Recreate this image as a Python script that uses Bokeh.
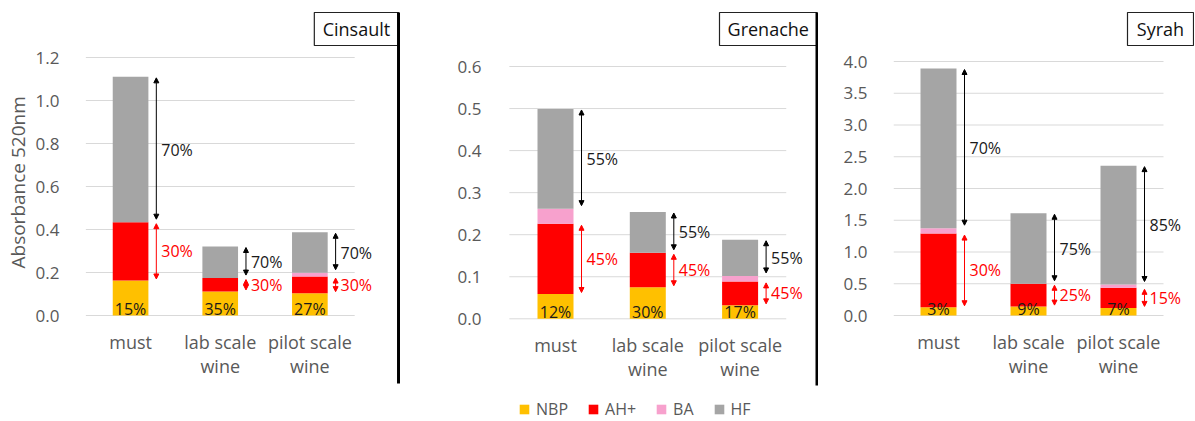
from bokeh.plotting import figure
from bokeh.models import (ColumnDataSource, Range1d, FixedTicker, NumeralTickFormatter,
                          Arrow, NormalHead, Legend, LegendItem, Title)
from bokeh.layouts import row
from bokeh.embed import file_html
from bokeh.resources import INLINE
from bokeh.core.properties import value

# ---------------- data ----------------
categories = ["must", "lab scale\nwine", "pilot scale\nwine"]
series = ["NBP", "AH+", "BA", "HF"]
colors = ["#FFC000", "#FF0000", "#F7A1CD", "#A5A5A5"]

cinsault_nbp = [0.163, 0.112, 0.104]
cinsault_ah = [0.271, 0.062, 0.077]
cinsault_ba = [0.0, 0.0, 0.018]
cinsault_hf = [0.676, 0.147, 0.188]
cinsault_pct_nbp = ["15%", "35%", "27%"]
cinsault_pct_ah = ["30%", "30%", "30%"]
cinsault_pct_hf = ["70%", "70%", "70%"]

grenache_nbp = [0.059, 0.075, 0.032]
grenache_ah = [0.167, 0.082, 0.057]
grenache_ba = [0.036, 0.0, 0.013]
grenache_hf = [0.237, 0.097, 0.086]
grenache_pct_nbp = ["12%", "30%", "17%"]
grenache_pct_ah = ["45%", "45%", "45%"]
grenache_pct_hf = ["55%", "55%", "55%"]

syrah_nbp = [0.13, 0.14, 0.12]
syrah_ah = [1.16, 0.36, 0.316]
syrah_ba = [0.085, 0.0, 0.052]
syrah_hf = [2.515, 1.11, 1.872]
syrah_pct_nbp = ["3%", "9%", "7%"]
syrah_pct_ah = ["30%", "25%", "15%"]
syrah_pct_hf = ["70%", "75%", "85%"]

cinsault_ticks = [0.0, 0.2, 0.4, 0.6, 0.8, 1.0, 1.2]
grenache_ticks = [0.0, 0.1, 0.2, 0.3, 0.4, 0.5, 0.6]
syrah_ticks = [0.0, 0.5, 1.0, 1.5, 2.0, 2.5, 3.0, 3.5, 4.0]

FONT = "Open Sans"
GRAY_TXT = "#595959"
H = 420


def make_panel(name, nbp, ah, ba, hf, pct_nbp, pct_ah, pct_hf, ticks, spec,
               ylabel=None):
    W, left, c1, ppx, y0, ppu = (spec["w"], spec["left"], spec["c1"],
                                 spec["ppx"], spec["y0"], spec["ppu"])
    x_start = 1 - (c1 - left) / ppx
    x_end = x_start + (W - left) / ppx
    y_end = y0 / ppu
    y_start = -(H - y0) / ppu

    def fx(px):
        return x_start + (px - left) / ppx

    def fy(py):
        return (y0 - py) / ppu

    p = figure(width=W, height=H, x_range=Range1d(x_start, x_end),
               y_range=Range1d(y_start, y_end), output_backend="svg",
               toolbar_location=None, min_border=0, min_border_left=left,
               min_border_right=0, min_border_top=0, min_border_bottom=0)
    p.outline_line_color = None
    p.xgrid.visible = False
    p.ygrid.visible = False
    p.background_fill_color = "white"
    p.border_fill_color = "white"

    # grid lines
    p.segment(x0=0.5, x1=3.5, y0=ticks, y1=ticks, line_color="#D9D9D9", line_width=1)

    xs = list(range(1, len(categories) + 1))
    src = ColumnDataSource(dict(x=xs, NBP=nbp, AH=ah, BA=ba, HF=hf))
    bw = 36 / ppx
    rends = p.vbar_stack(["NBP", "AH", "BA", "HF"], x="x", width=bw,
                         fill_color=colors, line_color=None, source=src)

    # arrows and percentage labels
    ah_top = [a + b for a, b in zip(nbp, ah)]
    ba_top = [a + b for a, b in zip(ah_top, ba)]
    top = [a + b for a, b in zip(ba_top, hf)]
    ax = [x + (bw / 2) + 8 / ppx for x in xs]
    lx = [a + 5 / ppx for a in ax]
    blk = ColumnDataSource(dict(x=ax, ys=[t - 1 / ppu for t in top],
                                ye=[b + 3 / ppu for b in ba_top]))
    red = ColumnDataSource(dict(x=ax, ys=[a - 1.5 / ppu for a in ah_top],
                                ye=[n + 1.5 / ppu for n in nbp]))
    p.add_layout(Arrow(start=NormalHead(size=5, fill_color="black", line_color="black"),
                       end=NormalHead(size=5, fill_color="black", line_color="black"),
                       x_start="x", y_start="ys", x_end="x", y_end="ye", source=blk,
                       line_color="black", line_width=1))
    p.add_layout(Arrow(start=NormalHead(size=5, fill_color="#FF0000", line_color="#FF0000"),
                       end=NormalHead(size=5, fill_color="#FF0000", line_color="#FF0000"),
                       x_start="x", y_start="ys", x_end="x", y_end="ye", source=red,
                       line_color="#FF0000", line_width=1))
    p.text(x=lx, y=[(a + b) / 2 for a, b in zip(top, ba_top)], text=pct_hf,
           text_align="left", text_baseline="middle", text_font=value(FONT),
           text_font_size="16px", text_color="#1a1a1a")
    p.text(x=lx, y=[(a + b) / 2 for a, b in zip(ah_top, nbp)], text=pct_ah,
           text_align="left", text_baseline="middle", text_font=value(FONT),
           text_font_size="16px", text_color="#FF0000")
    p.text(x=xs, y=[0] * len(xs), text=pct_nbp, text_align="center",
           text_baseline="middle", y_offset=-7, text_font=value(FONT),
           text_font_size="16px", text_color="#1a1a1a")

    # title box
    bx0, by0, bx1, by1 = spec["box"]
    p.quad(left=fx(bx0), right=fx(bx1), top=fy(by0), bottom=fy(by1),
           fill_color="white", line_color="#222222", line_width=1.2)
    p.text(x=[fx((bx0 + bx1) / 2)], y=[fy((by0 + by1) / 2)], text=[name],
           text_align="center", text_baseline="middle", text_font=value(FONT),
           text_font_size="18px", text_color="#111111")
    if spec.get("vline") is not None:
        vx, vy0, vy1 = spec["vline"]
        p.segment(x0=fx(vx), x1=fx(vx), y0=fy(vy0), y1=fy(vy1),
                  line_color="black", line_width=3)

    # axes
    yax = p.yaxis[0]
    yax.ticker = FixedTicker(ticks=ticks)
    yax.formatter = NumeralTickFormatter(format="0.0")
    yax.axis_line_color = None
    yax.major_tick_line_color = None
    yax.minor_tick_line_color = None
    yax.major_label_standoff = 20
    yax.major_label_text_font = FONT
    yax.major_label_text_font_size = "17px"
    yax.major_label_text_color = GRAY_TXT
    if ylabel:
        t = Title(text=ylabel, align="left", offset=H - 268, standoff=4,
                  text_font=FONT, text_font_size="19px", text_font_style="normal",
                  text_color=GRAY_TXT)
        p.add_layout(t, "left")

    xax = p.xaxis[0]
    xax.fixed_location = 0
    xax.ticker = FixedTicker(ticks=xs)
    xax.major_label_overrides = {x: c for x, c in zip(xs, categories)}
    xax.axis_line_color = None
    xax.major_tick_line_color = None
    xax.minor_tick_line_color = None
    xax.major_label_standoff = 8
    xax.major_label_text_font = FONT
    xax.major_label_text_font_size = "18px"
    xax.major_label_text_color = GRAY_TXT
    xax.major_label_text_line_height = 1.02
    return p, rends


spec1 = dict(w=400, left=82, c1=127.5, ppx=90.5, y0=315, ppu=215,
             box=(313, 12, 398, 45), vline=(398, 12, 383))
spec2 = dict(w=418, left=107, c1=155, ppx=92.3, y0=318.3, ppu=420.5,
             box=(319, 12, 416.5, 45), vline=(416.5, 12, 385))
spec3 = dict(w=376, left=75, c1=120, ppx=90, y0=315, ppu=63.5,
             box=(309, 12, 375, 45), vline=None)

p1, _ = make_panel("Cinsault", cinsault_nbp, cinsault_ah, cinsault_ba, cinsault_hf,
                   cinsault_pct_nbp, cinsault_pct_ah, cinsault_pct_hf,
                   cinsault_ticks, spec1, ylabel="Absorbance 520nm")
p2, r2 = make_panel("Grenache", grenache_nbp, grenache_ah, grenache_ba, grenache_hf,
                    grenache_pct_nbp, grenache_pct_ah, grenache_pct_hf,
                    grenache_ticks, spec2)
p3, _ = make_panel("Syrah", syrah_nbp, syrah_ah, syrah_ba, syrah_hf,
                   syrah_pct_nbp, syrah_pct_ah, syrah_pct_hf,
                   syrah_ticks, spec3)

legend = Legend(items=[LegendItem(label=s, renderers=[r]) for s, r in zip(series, r2)],
                orientation="horizontal", location=(11, 0), padding=0, margin=0,
                glyph_width=12, glyph_height=12, label_standoff=6, spacing=19,
                label_text_font=FONT, label_text_font_size="16px",
                label_text_color=GRAY_TXT, border_line_color=None,
                background_fill_alpha=0)
p2.add_layout(legend)

layout = row(p1, p2, p3)
open("out.html", "w").write(file_html(layout, INLINE))
